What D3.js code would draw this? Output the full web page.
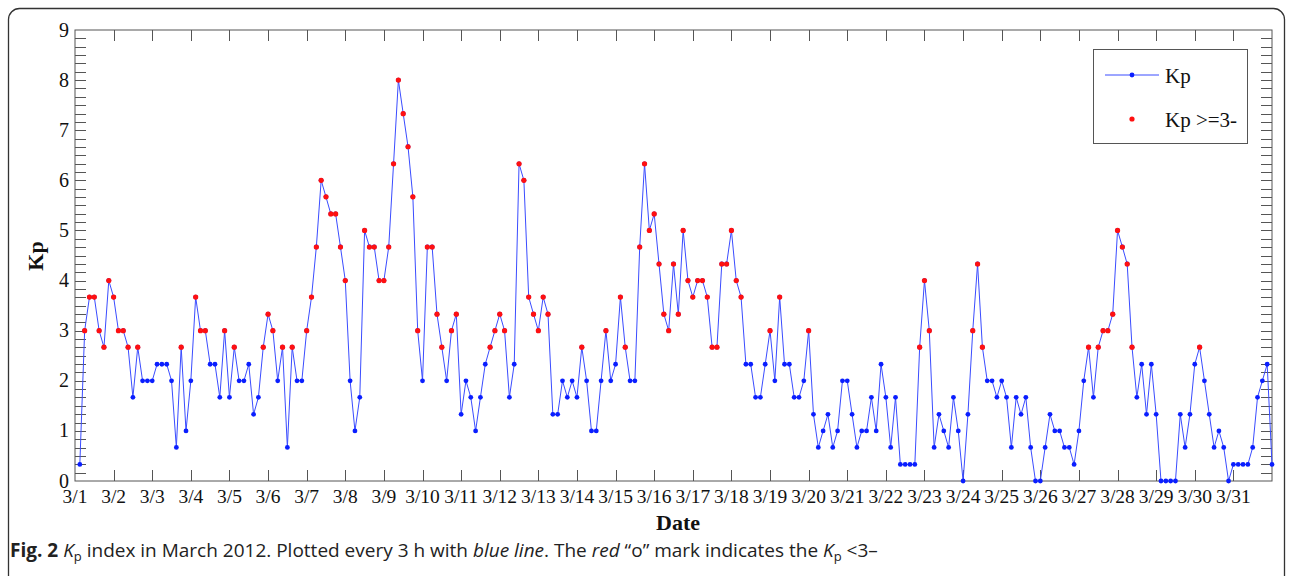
<!DOCTYPE html>
<html>
<head>
<meta charset="utf-8">
<script src="https://cdn.jsdelivr.net/npm/d3@7"></script>
<style>
  html, body { margin: 0; padding: 0; background: #fff; }
  svg { display: block; }
</style>
</head>
<body>
<svg id="chart" width="1292" height="576"></svg>
<script>
// ---- data ----
const dayLabels = ["3/1","3/2","3/3","3/4","3/5","3/6","3/7","3/8","3/9","3/10","3/11","3/12","3/13","3/14","3/15","3/16","3/17","3/18","3/19","3/20","3/21","3/22","3/23","3/24","3/25","3/26","3/27","3/28","3/29","3/30","3/31"];
const yTickValues = [0,1,2,3,4,5,6,7,8,9];
// Kp every 3 h, 8 values per day (3/1 .. 3/31)
const kpValues = [
  0.33, 3, 3.67, 3.67, 3, 2.67, 4, 3.67,
  3, 3, 2.67, 1.67, 2.67, 2, 2, 2,
  2.33, 2.33, 2.33, 2, 0.67, 2.67, 1, 2,
  3.67, 3, 3, 2.33, 2.33, 1.67, 3, 1.67,
  2.67, 2, 2, 2.33, 1.33, 1.67, 2.67, 3.33,
  3, 2, 2.67, 0.67, 2.67, 2, 2, 3,
  3.67, 4.67, 6, 5.67, 5.33, 5.33, 4.67, 4,
  2, 1, 1.67, 5, 4.67, 4.67, 4, 4,
  4.67, 6.33, 8, 7.33, 6.67, 5.67, 3, 2,
  4.67, 4.67, 3.33, 2.67, 2, 3, 3.33, 1.33,
  2, 1.67, 1, 1.67, 2.33, 2.67, 3, 3.33,
  3, 1.67, 2.33, 6.33, 6, 3.67, 3.33, 3,
  3.67, 3.33, 1.33, 1.33, 2, 1.67, 2, 1.67,
  2.67, 2, 1, 1, 2, 3, 2, 2.33,
  3.67, 2.67, 2, 2, 4.67, 6.33, 5, 5.33,
  4.33, 3.33, 3, 4.33, 3.33, 5, 4, 3.67,
  4, 4, 3.67, 2.67, 2.67, 4.33, 4.33, 5,
  4, 3.67, 2.33, 2.33, 1.67, 1.67, 2.33, 3,
  2, 3.67, 2.33, 2.33, 1.67, 1.67, 2, 3,
  1.33, 0.67, 1, 1.33, 0.67, 1, 2, 2,
  1.33, 0.67, 1, 1, 1.67, 1, 2.33, 1.67,
  0.67, 1.67, 0.33, 0.33, 0.33, 0.33, 2.67, 4,
  3, 0.67, 1.33, 1, 0.67, 1.67, 1, 0,
  1.33, 3, 4.33, 2.67, 2, 2, 1.67, 2,
  1.67, 0.67, 1.67, 1.33, 1.67, 0.67, 0, 0,
  0.67, 1.33, 1, 1, 0.67, 0.67, 0.33, 1,
  2, 2.67, 1.67, 2.67, 3, 3, 3.33, 5,
  4.67, 4.33, 2.67, 1.67, 2.33, 1.33, 2.33, 1.33,
  0, 0, 0, 0, 1.33, 0.67, 1.33, 2.33,
  2.67, 2, 1.33, 0.67, 1, 0.67, 0, 0.33,
  0.33, 0.33, 0.33, 0.67, 1.67, 2, 2.33, 0.33
];
const threshold = 2.67; // "3-"
const legendLabels = ["Kp", "Kp >=3-"];

// ---- layout ----
const svg = d3.select("#chart");
const L = 75, R = 1272, T = 30, B = 481;
const serif = "'Liberation Serif', 'Times New Roman', serif";

const x = d3.scaleLinear().domain([0, 31]).range([L, R]);
const y = d3.scaleLinear().domain([0, 9]).range([B, T]);

const pts = kpValues.map((v, i) => ({ t: (i + 1) / 8, v }));

// outer frame
svg.append("rect").attr("x", 8.5).attr("y", 8.5).attr("width", 1276).attr("height", 600)
  .attr("rx", 11).attr("fill", "none").attr("stroke", "#333").attr("stroke-width", 1.3);

// axes box
svg.append("rect").attr("x", L).attr("y", T).attr("width", R - L).attr("height", B - T)
  .attr("fill", "none").attr("stroke", "#555").attr("stroke-width", 1);

// y ticks (every 1/6) inward on both sides
const yMinor = d3.range(0, 9 * 6 + 1).map(k => k / 6);
const gTicks = svg.append("g").attr("stroke", "#555").attr("stroke-width", 1);
yMinor.forEach(v => {
  if (v === 0 || v === 9) return;
  const yy = Math.round(y(v)) + 0.5;
  gTicks.append("line").attr("x1", L).attr("x2", L + 11).attr("y1", yy).attr("y2", yy);
  gTicks.append("line").attr("x1", R).attr("x2", R - 11).attr("y1", yy).attr("y2", yy);
});
// x ticks every day, inward top and bottom
d3.range(1, 31).forEach(d => {
  const xx = Math.round(x(d)) + 0.5;
  gTicks.append("line").attr("x1", xx).attr("x2", xx).attr("y1", B).attr("y2", B - 11);
  gTicks.append("line").attr("x1", xx).attr("x2", xx).attr("y1", T).attr("y2", T + 11);
});

// y tick labels
svg.append("g").selectAll("text").data(yTickValues).join("text")
  .attr("x", L - 6).attr("y", d => y(d)).attr("dy", "0.33em")
  .attr("text-anchor", "end").attr("font-family", serif).attr("font-size", 20)
  .attr("fill", "#111").text(d => d);

// x tick labels
svg.append("g").selectAll("text").data(dayLabels).join("text")
  .attr("x", (d, i) => x(i)).attr("y", 503)
  .attr("text-anchor", "middle").attr("font-family", serif).attr("font-size", 19.5)
  .attr("fill", "#111").text(d => d);

// axis titles
svg.append("text").attr("x", 678).attr("y", 530).attr("text-anchor", "middle")
  .attr("font-family", serif).attr("font-size", 22).attr("font-weight", "bold")
  .attr("fill", "#111").text("Date");
svg.append("text").attr("transform", "translate(43,256) rotate(-90)").attr("text-anchor", "middle")
  .attr("font-family", serif).attr("font-size", 22).attr("font-weight", "bold")
  .attr("fill", "#111").text("Kp");

// line
const line = d3.line().x(d => x(d.t)).y(d => y(d.v));
svg.append("path").datum(pts).attr("d", line).attr("fill", "none")
  .attr("stroke", "#3a4cff").attr("stroke-width", 1);

// blue points
svg.append("g").selectAll("circle").data(pts).join("circle")
  .attr("cx", d => x(d.t)).attr("cy", d => y(d.v)).attr("r", 2.4).attr("fill", "#0a1eff");

// red points for Kp >= 3-
svg.append("g").selectAll("circle").data(pts.filter(d => d.v >= threshold - 0.005)).join("circle")
  .attr("cx", d => x(d.t)).attr("cy", d => y(d.v)).attr("r", 2.6).attr("fill", "#ff1010");

// legend
const lg = svg.append("g");
lg.append("rect").attr("x", 1093.5).attr("y", 49.5).attr("width", 154).attr("height", 94)
  .attr("fill", "#fff").attr("stroke", "#555").attr("stroke-width", 1);
lg.append("line").attr("x1", 1105).attr("x2", 1159).attr("y1", 75).attr("y2", 75)
  .attr("stroke", "#3a4cff").attr("stroke-width", 1);
lg.append("circle").attr("cx", 1132).attr("cy", 75).attr("r", 2.4).attr("fill", "#0a1eff");
lg.append("circle").attr("cx", 1132).attr("cy", 119).attr("r", 2.6).attr("fill", "#ff1010");
lg.selectAll("text").data(legendLabels).join("text")
  .attr("x", 1165).attr("y", (d, i) => 83 + i * 44)
  .attr("font-family", serif).attr("font-size", 21).attr("fill", "#111").text(d => d);

// caption
const cap = svg.append("text").attr("x", 10).attr("y", 557)
  .attr("font-family", "'Open Sans', 'Noto Sans', sans-serif").attr("font-size", 19).attr("fill", "#222");
cap.append("tspan").attr("font-weight", "bold").text("Fig. 2 ");
cap.append("tspan").attr("font-style", "italic").text("K");
cap.append("tspan").attr("font-size", 13).attr("dy", 4).text("p");
cap.append("tspan").attr("dy", -4).text(" index in March 2012. Plotted every 3 h with ");
cap.append("tspan").attr("font-style", "italic").text("blue line");
cap.append("tspan").text(". The ");
cap.append("tspan").attr("font-style", "italic").text("red");
cap.append("tspan").text(" \u201Co\u201D mark indicates the ");
cap.append("tspan").attr("font-style", "italic").text("K");
cap.append("tspan").attr("font-size", 13).attr("dy", 4).text("p");
cap.append("tspan").attr("dy", -4).text(" <3\u2013");
</script>
</body>
</html>
